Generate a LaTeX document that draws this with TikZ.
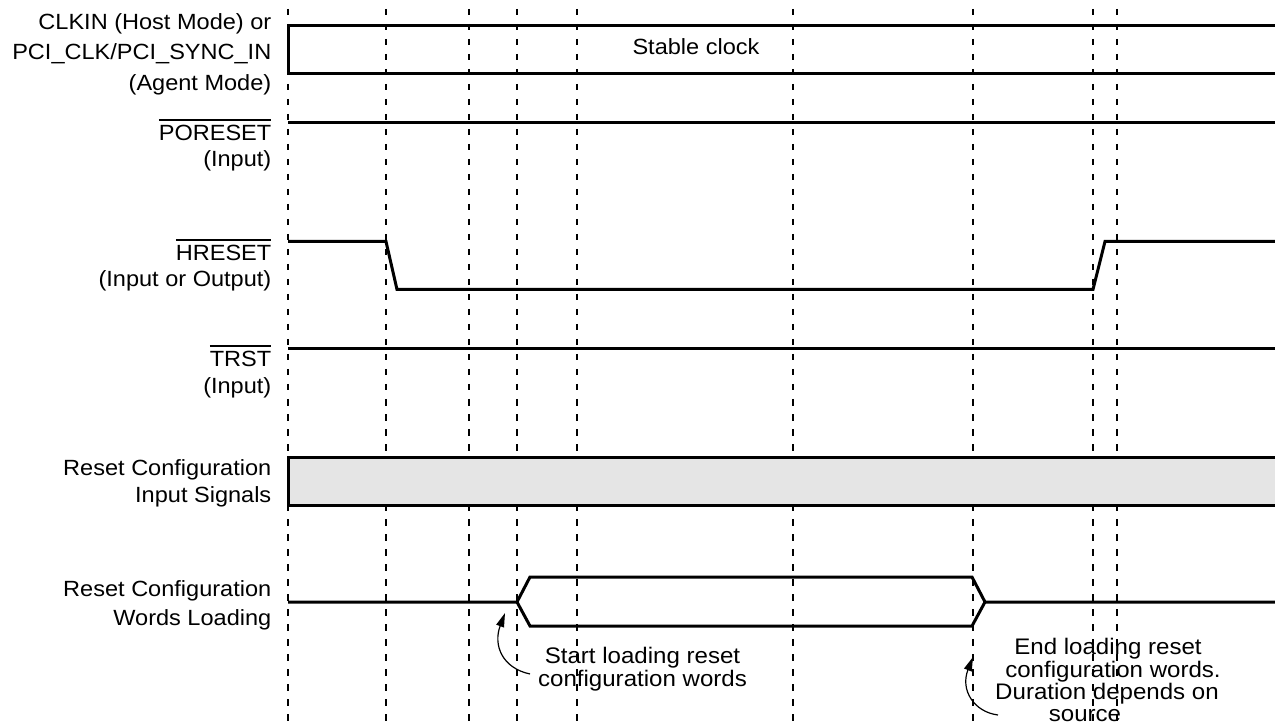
\documentclass[tikz,border=0pt]{standalone}
\usepackage{fontspec}
\setmainfont{Liberation Sans}[FakeStretch=1.07]
\usetikzlibrary{arrows.meta}
\newcommand{\ovbar}[1]{\leavevmode\vbox{\hrule height 1.7pt\kern 4.5pt\hbox{#1}}}
\begin{document}
\begin{tikzpicture}[x=1pt,y=-1pt,
  sig/.style={line width=3pt, line join=miter, line cap=butt},
  gridline/.style={line width=2.2pt, dash pattern=on 6.5pt off 8.5pt},
  lbl/.style={anchor=base east, inner sep=0pt, font=\fontsize{22}{26}\selectfont},
  note/.style={anchor=base, inner sep=0pt, font=\fontsize{22.5}{23}\selectfont},
  ann/.style={line width=1.2pt, -{Triangle[length=14pt,width=8pt]}}]
\useasboundingbox (0,0) rectangle (1275,727);
% dashed time markers
\foreach \x in {288,386,469,517,577,793,973,1093,1117}
  \draw[gridline] (\x,9) -- (\x,727);
% clock
\draw[sig] (1275,25.5) -- (288,25.5) -- (288,73.3) -- (1275,73.3);
\node[note, font=\fontsize{22}{22}\selectfont] (stable) at (696,55) {Stable clock};
% PORESET
\draw[sig] (288,122.3) -- (1275,122.3);
% HRESET
\coordinate (hA) at (288,241.5);
\coordinate (hB) at (386,241.5);
\coordinate (hC) at (397,289.5);
\coordinate (hD) at (1093,289.5);
\coordinate (hE) at (1105,241.5);
\coordinate (hF) at (1275,241.5);
\draw[sig] (hA) -- (hB) -- (hC) -- (hD) -- (hE) -- (hF);
% TRST
\draw[sig] (288,349) -- (1275,349);
% Reset config input signals
\draw[sig, fill=black!10] (1275,457.5) -- (288,457.5) -- (288,505.7) -- (1275,505.7);
% Words loading
\coordinate (w0) at (288,602);
\coordinate (wS) at (517,602);
\coordinate (wT1) at (530,577);
\coordinate (wT2) at (972,577);
\coordinate (wE) at (985,602);
\coordinate (wB1) at (530,626);
\coordinate (wB2) at (972,626);
\coordinate (w9) at (1275,602);
\draw[sig] (w0) -- (wS) -- (wT1) -- (wT2) -- (wE) -- (w9);
\draw[sig] (wS) -- (wB1) -- (wB2) -- (wE);
% labels
\node[lbl] (clk1) at (271.5,29.3) {CLKIN (Host Mode) or};
\node[lbl] (clk2) at (271.5,60) {PCI\_CLK/PCI\_SYNC\_IN};
\node[lbl] (clk3) at (271.5,90.7) {(Agent Mode)};
\node[lbl] (por1) at (271.5,141) {\ovbar{PORESET}};
\node[lbl] (por2) at (271.5,166.7) {(Input)};
\node[lbl] (hr1) at (271.5,260.7) {\ovbar{HRESET}};
\node[lbl] (hr2) at (271.5,286.7) {(Input or Output)};
\node[lbl] (tr1) at (271.5,366.7) {\ovbar{TRST}};
\node[lbl] (tr2) at (271.5,394) {(Input)};
\node[lbl] (rc1) at (271.5,475) {Reset Configuration};
\node[lbl] (rc2) at (271.5,502.7) {Input Signals};
\node[lbl] (rw1) at (271.5,596.7) {Reset Configuration};
\node[lbl] (rw2) at (271.5,625) {Words Loading};
% notes
\node[note] (s1) at (642.5,663.3) {Start loading reset};
\node[note] (s2) at (642.5,686.7) {configuration words};
\node[note] (e1) at (1108,654) {End loading reset};
\node[note] (e2) at (1113,677) {configuration words.};
\node[note] (e3) at (1107,699.5) {Duration depends on};
\node[note] (e4) at (1085,721) {source};
% annotation arrows
\coordinate (sTail) at (530,674);
\coordinate (sTip) at (505,613);
\coordinate (eTail) at (998,715);
\coordinate (eTip) at (973,657);
\draw[ann] (sTail) .. controls (502,668) and (493,645) .. (sTip);
\draw[ann] (eTail) .. controls (974,712) and (960,690) .. (eTip);
\end{tikzpicture}
\end{document}
